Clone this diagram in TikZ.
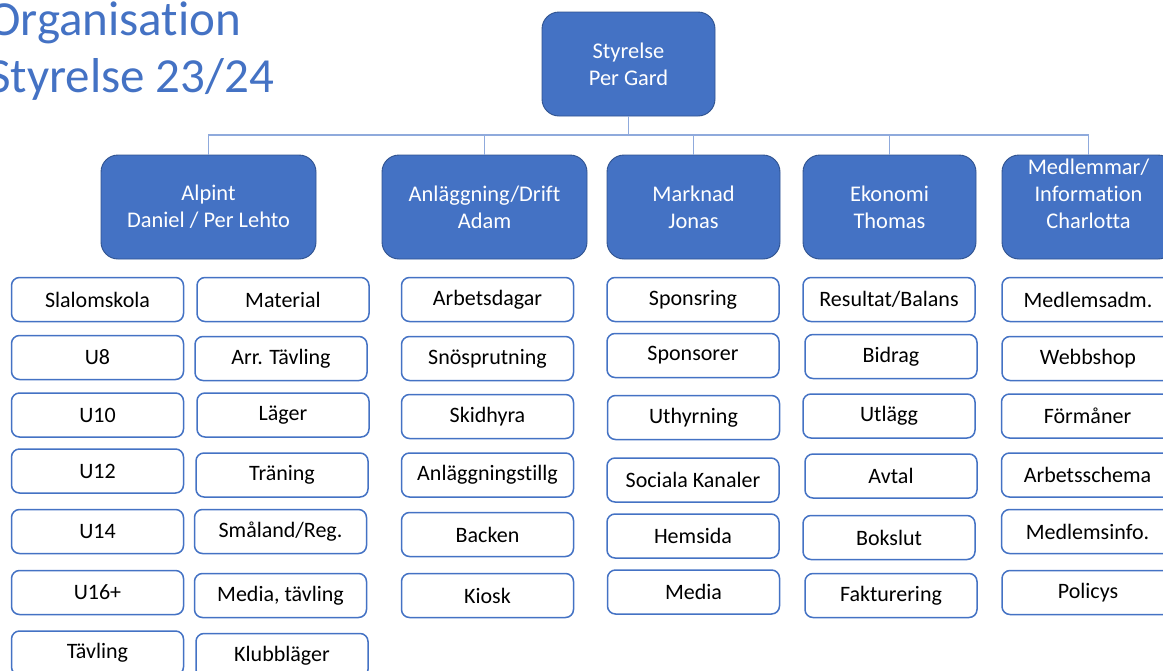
\documentclass[tikz,border=0pt]{standalone}
\usepackage{fontspec}
\setmainfont{Carlito}[Ligatures=CommonOff]
\definecolor{oblue}{HTML}{4472C4}
\definecolor{odark}{HTML}{2F528F}
\definecolor{oline}{HTML}{8FAADC}
\tikzset{
  headfont/.style={font=\fontsize{22.4}{27}\selectfont},
  head/.style={draw=odark, line width=0.9pt, fill=oblue, rounded corners=17pt, text=white,
    align=center, headfont, inner sep=0pt, minimum height=104pt},
  item/.style={draw=oblue, line width=1.5pt, fill=white, rounded corners=8pt, text=black,
    font=\fontsize{22}{26}\selectfont, inner sep=0pt, minimum width=172pt, minimum height=44pt},
  conn/.style={draw=oline, line width=1.1pt},
  titletext/.style={text=oblue, font=\fontsize{49}{57}\selectfont, inner sep=0pt, anchor=base west}
}
\begin{document}
\begin{tikzpicture}[x=1pt,y=-1pt]
\useasboundingbox (0,0) rectangle (1163,670);
% title
\node[titletext] (t1) at (-12,35) {Organisation};
\node[titletext] (t2) at (-12,92) {Styrelse 23/24};
% header boxes
\node[head, minimum width=173pt] (sty) at (628.5,64) {Styrelse\\Per Gard};
\node[head, minimum width=215pt] (alp) at (208.5,207) {Alpint\\Daniel / Per Lehto};
\node[head, minimum width=205pt] (anl) at (484.5,207) {Anläggning/Drift\\Adam};
\node[head, minimum width=173pt] (mar) at (693.5,207) {Marknad\\Jonas};
\node[head, minimum width=173pt] (eko) at (889.5,207) {Ekonomi\\Thomas};
\node[head, minimum width=173pt] (med) at (1088.5,207) {};
\node[text=white, align=center, headfont, inner sep=0pt, anchor=center] (medt) at (1088.5,194) {Medlemmar/\\Information\\Charlotta};
% connectors
\coordinate (bus) at (628.5,135);
\draw[conn] (sty.south) -- (bus);
\draw[conn] (alp.north) |- (bus);
\draw[conn] (anl.north) |- (bus);
\draw[conn] (mar.north) |- (bus);
\draw[conn] (eko.north) |- (bus);
\draw[conn] (med.north) |- (bus);
% Alpint column 1
\node[item] (a1) at (97.5,299.5) {Slalomskola};
\node[item] (a2) at (97.5,357.5) {U8};
\node[item] (a3) at (97.5,415) {U10};
\node[item] (a4) at (97.5,471) {U12};
\node[item] (a5) at (97.5,531.5) {U14};
\node[item] (a6) at (97.5,592.5) {U16+};
\node[item] (a7) at (97.5,653) {Tävling};
% Alpint column 2
\node[item] (b1) at (283,299.5) {Material};
\node[item] (b2) at (281,358.5) {Arr. Tävling};
\node[item] (b3) at (283,415) {Läger};
\node[item] (b4) at (282,475) {Träning};
\node[item] (b5) at (280.5,531.5) {Småland/Reg.};
\node[item] (b6) at (280.5,595.5) {Media, tävling};
\node[item] (b7) at (282,655.5) {Klubbläger};
% Anläggning
\node[item] (c1) at (487.5,299.5) {Arbetsdagar};
\node[item] (c2) at (487.5,358.5) {Snösprutning};
\node[item] (c3) at (487.5,416.5) {Skidhyra};
\node[item] (c4) at (487.5,475) {Anläggningstillg};
\node[item] (c5) at (487.5,534.5) {Backen};
\node[item] (c6) at (487.5,595.5) {Kiosk};
% Marknad
\node[item] (d1) at (693,299.5) {Sponsring};
\node[item] (d2) at (693,355.5) {Sponsorer};
\node[item] (d3) at (693.5,417.5) {Uthyrning};
\node[item] (d4) at (693,480) {Sociala Kanaler};
\node[item] (d5) at (693,536) {Hemsida};
\node[item] (d6) at (693.5,592) {Media};
% Ekonomi
\node[item] (e1) at (889,299.5) {Resultat/Balans};
\node[item] (e2) at (891,356.5) {Bidrag};
\node[item] (e3) at (889,416) {Utlägg};
\node[item] (e4) at (891,476) {Avtal};
\node[item] (e5) at (889,537.5) {Bokslut};
\node[item] (e6) at (891,595.5) {Fakturering};
% Medlemmar
\node[item] (f1) at (1088,299.5) {Medlemsadm.};
\node[item] (f2) at (1088,358.5) {Webbshop};
\node[item] (f3) at (1087.5,416) {Förmåner};
\node[item] (f4) at (1087.5,475) {Arbetsschema};
\node[item] (f5) at (1087.5,531.5) {Medlemsinfo.};
\node[item] (f6) at (1088,592.5) {Policys};
\end{tikzpicture}
\end{document}
